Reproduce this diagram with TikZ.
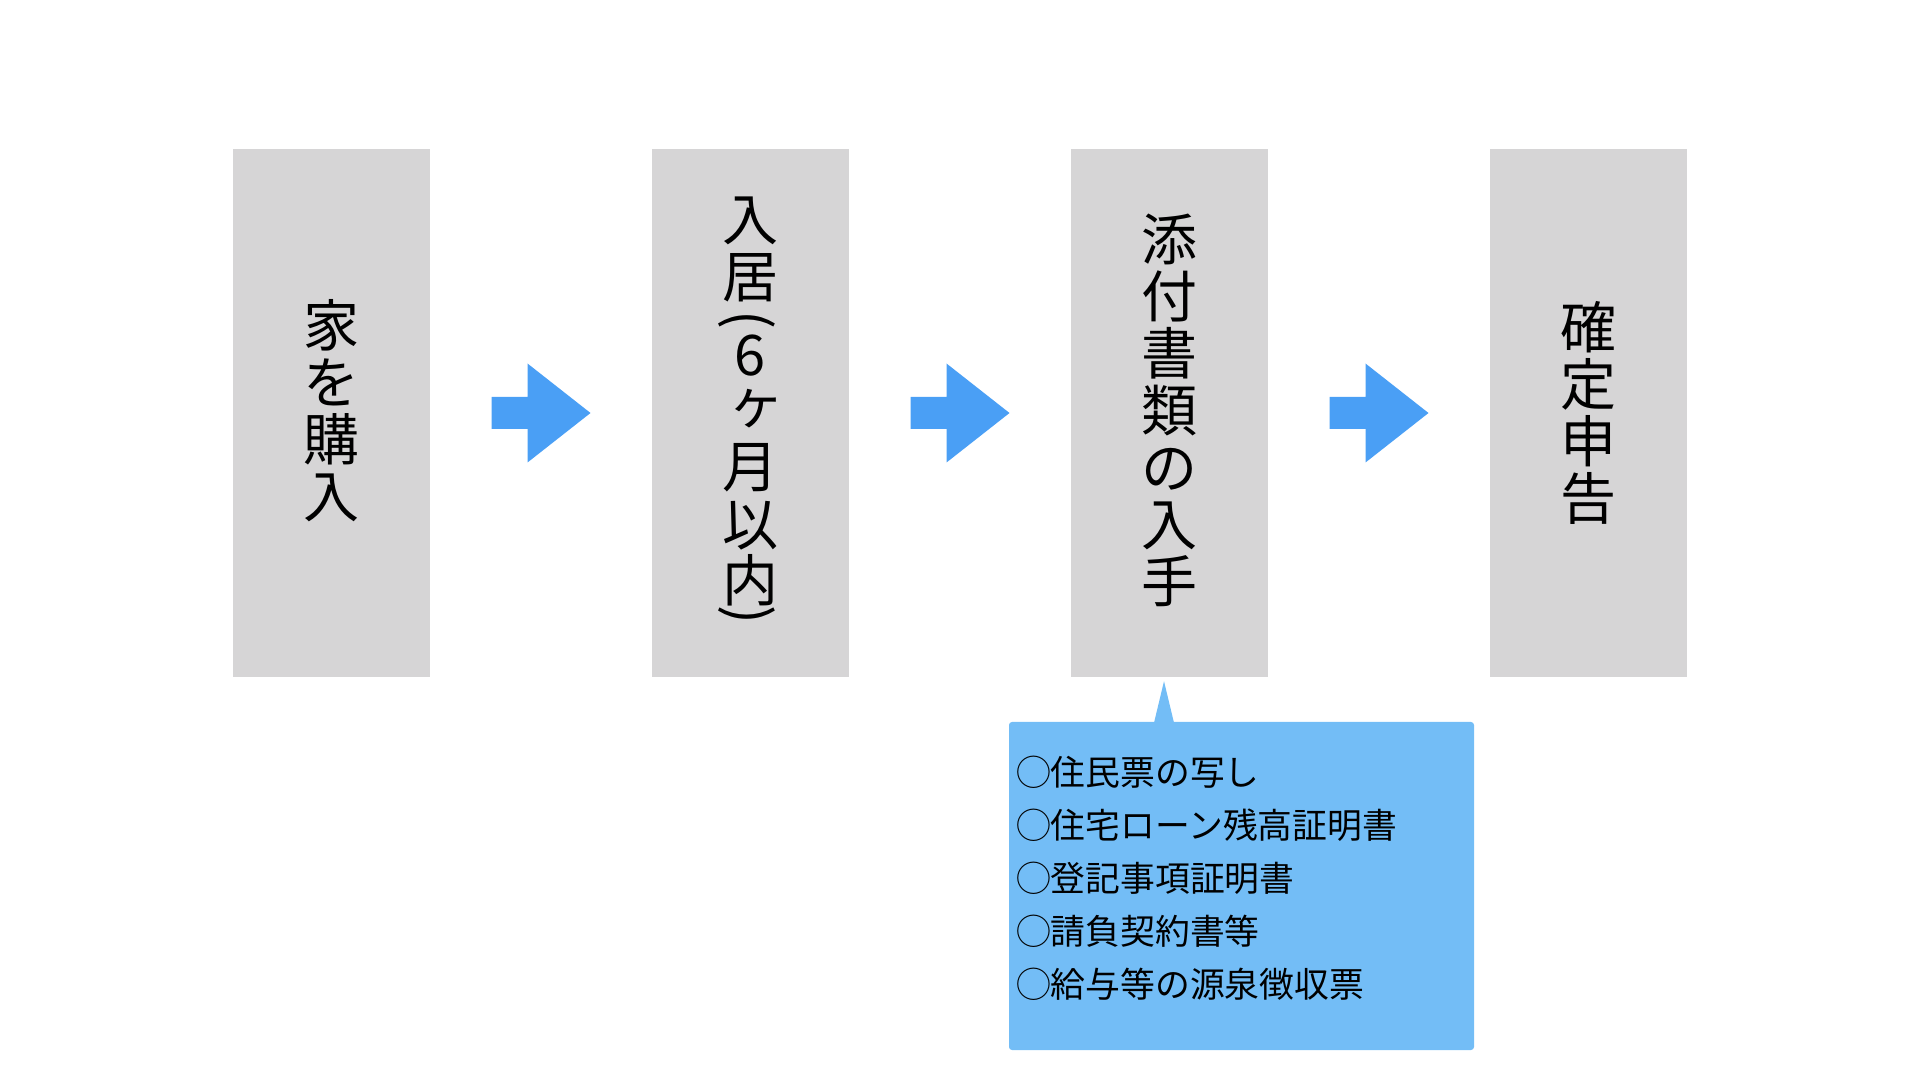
\documentclass[tikz,border=0pt]{standalone}
\usepackage{fontspec}
\newfontfamily\jpfont{Noto Sans CJK JP}
\usetikzlibrary{calc}
\definecolor{boxgray}{RGB}{214,213,214}
\definecolor{arrowblue}{RGB}{74,159,245}
\definecolor{noteblue}{RGB}{115,189,246}
\begin{document}
\begin{tikzpicture}[x=1pt,y=1pt,
	every node/.style={inner sep=0pt,font=\jpfont},
	stepbox/.style={fill=boxgray,minimum width=197pt,minimum height=528pt}, % grey step
	vlabel/.style={align=center,font=\jpfont\fontsize{56}{57}\selectfont}, % vertical text
	vchar/.style={font=\jpfont\fontsize{56}{57}\selectfont}, % one character of vertical text
	flowarrow/.style={fill=arrowblue},
	notebox/.style={fill=noteblue,rounded corners=3pt,minimum width=465pt,minimum height=328pt}]
	\useasboundingbox (0,0) rectangle (1920,1080);
	% steps
	\node[stepbox] (s1) at (331.5,667)  {};
	\node[stepbox] (s2) at (750.5,667)  {};
	\node[stepbox] (s3) at (1169.5,667) {};
	\node[stepbox] (s4) at (1588.5,667) {};
	\node[vlabel] (t1) at ($(s1)+(0,2)$) {家\\を\\購\\入};
	\foreach \c/\dx/\dy [count=\k] in {入/0/192,居/0/135,6/0/57,ヶ/6/4,月/0/-55,以/0/-113,内/0/-167}
		\node[vchar] (t2\k) at ($(s2)+(\dx,\dy)$) {\c};
	\node[vchar,rotate=-90] (p1) at ($(s2)+(-4,93)$) {(}; % vertical brackets
	\node[vchar,rotate=-90] (p2) at ($(s2)+(-4,-202)$) {)};
	\node[vlabel] (t3) at ($(s3)+(0,3)$) {添\\付\\書\\類\\の\\入\\手};
	\node[vlabel] (t4) at ($(s4)+(0,0.5)$) {確\\定\\申\\告};
	% block arrows between the steps
	\foreach \i/\j in {1/2,2/3,3/4}{
		\coordinate (m\i) at ($(s\i.east)!.5!(s\j.west)$);
		\fill[flowarrow] ($(m\i)+(-49.5,-16)$) -- ++(36,0) -- ++(0,-33.5) -- ($(m\i)+(49.5,0)$)
			-- ($(m\i)+(-13.5,49.5)$) -- ++(0,-33.5) -- ($(m\i)+(-49.5,16)$) -- cycle;
	}
	% callout with the documents
	\node[notebox] (docs) at (1241.5,194) {};
	\fill[noteblue] ($(docs.north)+(-87.5,-1)$) -- ($(s3.south)+(-5.5,-4)$) -- ($(docs.north)+(-67.5,-1)$) -- cycle;
	\node[anchor=west,align=left,font=\jpfont\fontsize{34.8}{53}\selectfont] (list) at ($(docs.west)+(7,8)$)
		{◯住民票の写し\\◯住宅ローン残高証明書\\◯登記事項証明書\\◯請負契約書等\\◯給与等の源泉徴収票};
\end{tikzpicture}
\end{document}
